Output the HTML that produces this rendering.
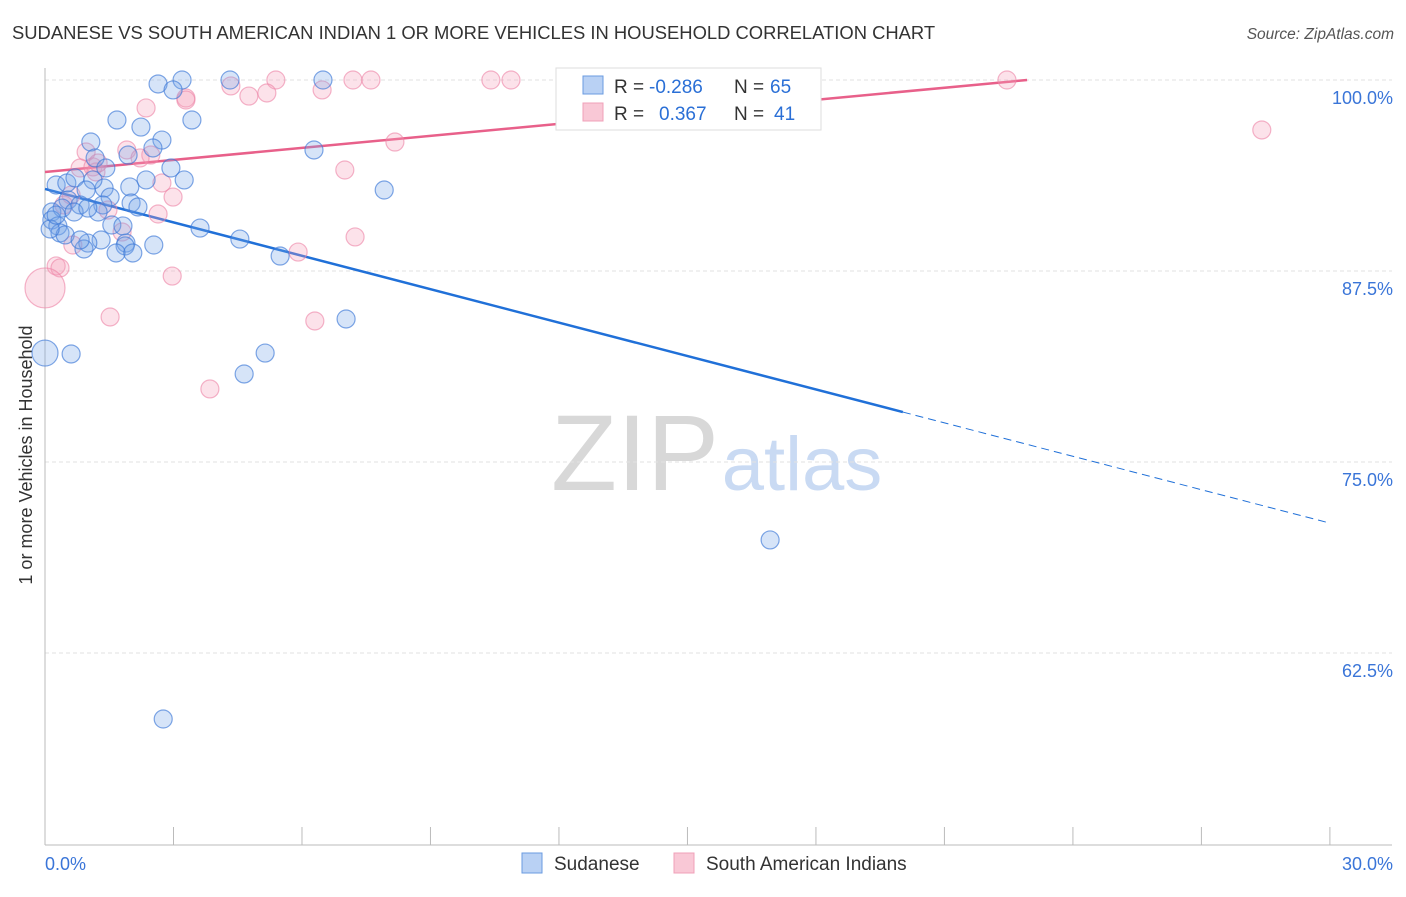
<!DOCTYPE html>
<html><head><meta charset="utf-8"><style>
body{margin:0;background:#fff;font-family:"Liberation Sans",sans-serif;}
svg text{font-family:"Liberation Sans",sans-serif;}
</style></head><body>
<svg id="chart" width="1406" height="892" xmlns="http://www.w3.org/2000/svg">
<text x="12" y="39" font-size="18.4" fill="#333">SUDANESE VS SOUTH AMERICAN INDIAN 1 OR MORE VEHICLES IN HOUSEHOLD CORRELATION CHART</text>
<text x="1394" y="39" font-size="15.5" fill="#555" text-anchor="end" font-style="italic">Source: ZipAtlas.com</text>
<text x="32" y="455" font-size="18" fill="#333" text-anchor="middle" transform="rotate(-90 32 455)">1 or more Vehicles in Household</text>
<g><text x="635" y="490" font-size="108" fill="#d8d8d8" font-family="Liberation Serif" text-anchor="middle">ZIP</text><text x="802" y="490" font-size="76" fill="#c9daf3" text-anchor="middle">atlas</text></g>
<g id="grid"></g><g id="axes"></g><g id="lines"></g><g id="pts"></g>
<g>
<rect x="556" y="68" width="265" height="62" fill="#fff" stroke="#ddd"/>
<rect x="583" y="76" width="20" height="18" fill="#b9d1f4" stroke="#6a9be0"/>
<text x="614" y="93" font-size="19" fill="#333">R =</text><text x="649" y="93" font-size="19" fill="#2a6fd6">-0.286</text>
<text x="734" y="93" font-size="19" fill="#333">N =</text><text x="770" y="93" font-size="19" fill="#2a6fd6">65</text>
<rect x="583" y="103" width="20" height="18" fill="#f9c8d6" stroke="#f0a0b8"/>
<text x="614" y="120" font-size="19" fill="#333">R =</text><text x="659" y="120" font-size="19" fill="#2a6fd6">0.367</text>
<text x="734" y="120" font-size="19" fill="#333">N =</text><text x="774" y="120" font-size="19" fill="#2a6fd6">41</text>
</g>
<g>
<rect x="522" y="853" width="20" height="20" fill="#b9d1f4" stroke="#6a9be0"/>
<text x="554" y="870" font-size="19" fill="#333">Sudanese</text>
<rect x="674" y="853" width="20" height="20" fill="#f9c8d6" stroke="#f0a0b8"/>
<text x="706" y="870" font-size="19" fill="#333">South American Indians</text>
</g>
</svg>
<script>
const blueX=[2.64,3.20,4.32,6.49,2.99,3.43,1.68,2.24,2.73,1.07,6.28,1.94,2.52,1.17,1.42,2.94,3.25,2.36,1.98,1.38,7.92,0.26,0.51,0.70,1.12,0.96,1.52,0.54,0.82,1.35,2.01,2.17,0.16,0.40,0.68,1.24,1.00,0.16,0.30,3.62,1.56,1.82,4.55,0.35,0.47,0.12,1.31,1.00,0.91,1.89,2.54,1.87,1.66,2.05,5.49,7.03,0.61,5.14,4.65,16.93,2.76,0.26,0.82,0.0];
const blueY=[99.74,100,100,100,99.35,97.38,97.38,96.92,96.07,95.94,95.42,95.09,95.55,94.90,94.24,94.24,93.46,93.46,93.00,92.93,92.80,93.13,93.26,93.59,93.46,92.80,92.34,92.15,91.82,91.82,91.95,91.69,91.36,91.62,91.36,91.36,91.62,90.84,90.45,90.31,90.51,90.45,89.59,89.99,89.86,90.25,89.53,89.33,88.94,89.33,89.20,89.14,88.68,88.68,88.48,84.36,82.07,82.13,80.76,69.90,58.18,91.16,89.53,82.13];
const blueSize=[9,9,9,9,9,9,9,9,9,9,9,9,9,9,9,9,9,9,9,9,9,9,9,9,9,9,9,9,9,9,9,9,9,9,9,9,9,9,9,9,9,9,9,9,9,9,9,9,9,9,9,9,9,9,9,9,9,9,9,9,9,9,9,13];
const pinkX=[4.34,5.39,7.19,7.61,10.41,10.88,22.46,3.29,4.76,5.18,6.47,2.36,28.41,8.17,0.96,1.91,2.47,2.22,0.82,1.12,1.19,7.00,2.73,2.99,1.47,2.64,0.61,0.44,1.80,7.24,0.65,5.91,0.26,0.35,0.0,1.52,6.30,2.97,3.85,3.29,1.24];
const pinkY=[99.61,100,100,100,100,100,100,98.82,98.95,99.15,99.35,98.17,96.73,95.94,95.29,95.42,95.09,94.90,94.24,94.31,93.98,94.11,93.26,92.34,91.49,91.23,92.47,91.82,90.05,89.73,89.20,88.74,87.83,87.70,86.39,84.49,84.23,87.17,79.78,98.69,94.57];
const pinkSize=[9,9,9,9,9,9,9,9,9,9,9,9,9,9,9,9,9,9,9,9,9,9,9,9,9,9,9,9,9,9,9,9,9,9,20,9,9,9,9,9,9];
const yTicks=[100,87.5,75,62.5];
const yTickLabels=["100.0%","87.5%","75.0%","62.5%"];
const blueTrend=[92.87,71.0], blueSolidEnd=20.03;
const pinkTrend=[93.98,100], pinkEnd=22.93;
const NS="http://www.w3.org/2000/svg";
const sx=v=>45+v*42.83, sy=v=>80+(100-v)*15.28;
function mk(tag,attrs,parent){const e=document.createElementNS(NS,tag);for(const k in attrs)e.setAttribute(k,attrs[k]);parent.appendChild(e);return e;}
const grid=document.getElementById('grid'),axes=document.getElementById('axes');
yTicks.forEach((t,i)=>{
 const g=mk('line',{x1:45,x2:1392,y1:sy(t),y2:sy(t),stroke:'#e2e2e2','stroke-dasharray':'4,3'},grid);
 
 
 const tx=mk('text',{x:1393,y:sy(t)+24,'font-size':18,fill:'#3a75d8','text-anchor':'end'},axes);
 tx.textContent=yTickLabels[i];
 
 
});
const ya=mk('line',{x1:45,x2:45,y1:68,y2:845,stroke:'#bbb'},axes);


const xa=mk('line',{x1:45,x2:1392,y1:845,y2:845,stroke:'#bbb'},axes);


for(let i=0;i<=10;i++){const t=mk('line',{x1:sx(i*3),x2:sx(i*3),y1:827,y2:845,stroke:'#bbb'},axes);
 
 }
const xl0=mk('text',{x:45,y:870,'font-size':18,fill:'#3a75d8'},axes);xl0.textContent='0.0%';


const xl1=mk('text',{x:1393,y:870,'font-size':18,fill:'#3a75d8','text-anchor':'end'},axes);xl1.textContent='30.0%';


const pts=document.getElementById('pts');
function dots(X,Y,S,fill,stroke,name){X.forEach((x,i)=>{const c=mk('circle',{cx:sx(x),cy:sy(Y[i]),r:S[i],fill:fill,stroke:stroke,'stroke-width':1.2},pts);
 
 });}
dots(pinkX,pinkY,pinkSize,'rgba(244,160,186,0.3)','rgba(236,130,165,0.6)','south-american-indian-point');
dots(blueX,blueY,blueSize,'rgba(120,165,232,0.3)','rgba(60,120,215,0.65)','sudanese-point');
const lines=document.getElementById('lines');
const lin=(a,x)=>a[0]+(a[1]-a[0])*x/30;
const b1=mk('line',{x1:sx(0),y1:sy(lin(blueTrend,0)),x2:sx(blueSolidEnd),y2:sy(lin(blueTrend,blueSolidEnd)),stroke:'#2070d8','stroke-width':2.5},lines);


const b2=mk('line',{x1:sx(blueSolidEnd),y1:sy(lin(blueTrend,blueSolidEnd)),x2:sx(30),y2:sy(lin(blueTrend,30)),stroke:'#2070d8','stroke-width':1,'stroke-dasharray':'8,5'},lines);


const pk=(x)=>pinkTrend[0]+(pinkTrend[1]-pinkTrend[0])*x/pinkEnd;
const p1=mk('line',{x1:sx(0),y1:sy(pk(0)),x2:sx(pinkEnd),y2:sy(pk(pinkEnd)),stroke:'#e8608a','stroke-width':2.5},lines);


</script>
</body></html>
